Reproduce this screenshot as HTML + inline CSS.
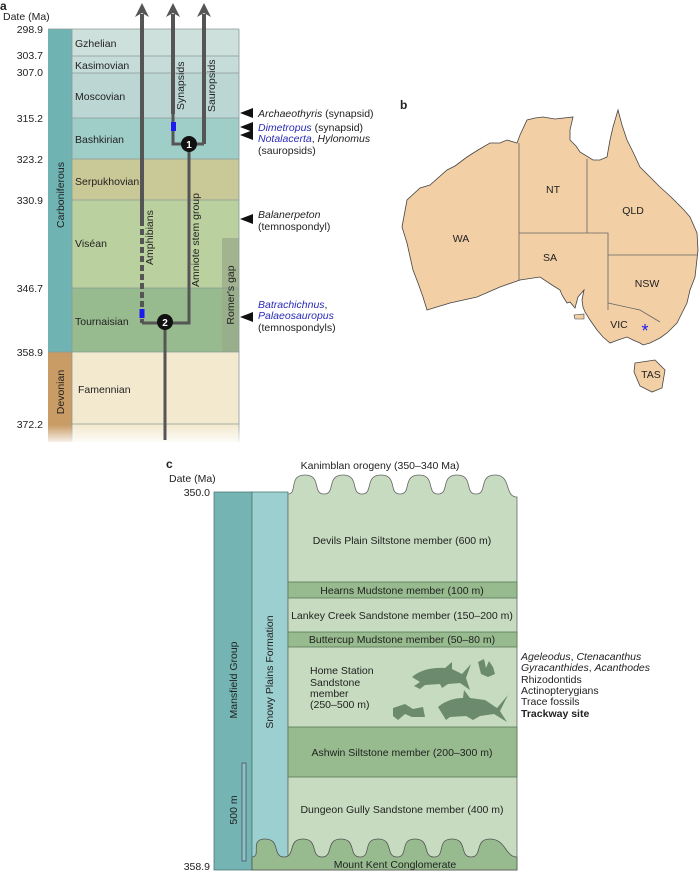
<!DOCTYPE html>
<html><head><meta charset="utf-8"><style>
html,body{margin:0;padding:0;background:#fff}
svg{display:block}
text{font-family:"Liberation Sans",Arial,sans-serif;fill:#222}
</style></head><body>
<svg width="700" height="875" viewBox="0 0 700 875" xmlns="http://www.w3.org/2000/svg">
<defs>
<linearGradient id="fade" x1="0" y1="0" x2="0" y2="1"><stop offset="0" stop-color="#fff" stop-opacity="0"/><stop offset="1" stop-color="#fff" stop-opacity="1"/></linearGradient>
</defs>
<!-- ===== Panel a ===== -->
<text x="0" y="10" font-size="12" font-weight="bold">a</text>
<text x="3" y="20" font-size="10.5">Date (Ma)</text>
<g font-size="10.5" text-anchor="end">
<text x="43" y="33">298.9</text><text x="43" y="59">303.7</text><text x="43" y="76">307.0</text>
<text x="43" y="122">315.2</text><text x="43" y="163">323.2</text><text x="43" y="204">330.9</text>
<text x="43" y="292">346.7</text><text x="43" y="356">358.9</text><text x="43" y="428">372.2</text>
</g>
<rect x="48" y="29" width="24" height="323" fill="#6fb3b3"/>
<rect x="48" y="352" width="24" height="90" fill="#c99b65"/>
<rect x="72" y="29" width="167" height="27" fill="#cde0dc"/>
<rect x="72" y="56" width="167" height="17" fill="#c6dcd8"/>
<rect x="72" y="73" width="167" height="45" fill="#bcd7d3"/>
<rect x="72" y="118" width="167" height="41" fill="#9fcdc8"/>
<rect x="72" y="159" width="167" height="41" fill="#c9c897"/>
<rect x="72" y="200" width="167" height="88" fill="#bad09e"/>
<rect x="72" y="288" width="167" height="64" fill="#97bb8e"/>
<rect x="72" y="352" width="167" height="90" fill="#f3e9cf"/>
<rect x="222" y="238" width="17" height="114" fill="#9aaa8a" opacity="0.75"/>
<g stroke="#8a9a98" stroke-width="0.8">
<line x1="72" y1="56" x2="239" y2="56"/><line x1="72" y1="73" x2="239" y2="73"/><line x1="72" y1="118" x2="239" y2="118"/>
<line x1="72" y1="159" x2="239" y2="159"/><line x1="72" y1="200" x2="239" y2="200"/><line x1="72" y1="288" x2="239" y2="288"/>
<line x1="48" y1="352" x2="239" y2="352"/><line x1="72" y1="424" x2="239" y2="424"/>
<line x1="72" y1="29" x2="72" y2="442"/><line x1="239" y1="29" x2="239" y2="442"/><line x1="48" y1="29" x2="239" y2="29"/>
</g>
<rect x="40" y="425" width="210" height="20" fill="url(#fade)"/>
<g font-size="10.5">
<text x="75" y="47">Gzhelian</text><text x="75" y="69">Kasimovian</text><text x="75" y="100">Moscovian</text>
<text x="75" y="143">Bashkirian</text><text x="75" y="185">Serpukhovian</text><text x="75" y="247">Viséan</text>
<text x="75" y="325">Tournaisian</text><text x="78" y="393">Famennian</text>
</g>
<text transform="translate(64,195) rotate(-90)" font-size="10.5" text-anchor="middle">Carboniferous</text>
<text transform="translate(64,392) rotate(-90)" font-size="10.5" text-anchor="middle">Devonian</text>
<text transform="translate(234,295) rotate(-90)" font-size="10.5" text-anchor="middle">Romer's gap</text>
<!-- tree -->
<g stroke="#555" fill="none" stroke-linejoin="miter">
<line x1="142" y1="14" x2="142" y2="220" stroke-width="4"/>
<line x1="142" y1="220" x2="142" y2="323" stroke-width="4" stroke-dasharray="6,3"/>
<polyline points="142,323 189,323 189,144" stroke-width="3"/>
<line x1="165" y1="323" x2="165" y2="440" stroke-width="3"/>
<line x1="173" y1="14" x2="173" y2="114" stroke-width="4"/>
<polyline points="173,114 173,144 204,144" stroke-width="3"/>
<line x1="204" y1="14" x2="204" y2="144" stroke-width="4"/>
</g>
<g fill="#555">
<polygon points="142,3 135,17 142,13 149,17"/>
<polygon points="173,3 166,17 173,13 180,17"/>
<polygon points="204,3 197,17 204,13 211,17"/>
</g>
<rect x="139.5" y="309" width="5" height="9" fill="#1b1bf0"/>
<rect x="171" y="122" width="5" height="9" fill="#1b1bf0"/>
<circle cx="189" cy="144" r="8" fill="#111"/><text x="189" y="148" font-size="10" font-weight="bold" text-anchor="middle" style="fill:#fff">1</text>
<circle cx="165" cy="322" r="8" fill="#111"/><text x="165" y="326" font-size="10" font-weight="bold" text-anchor="middle" style="fill:#fff">2</text>
<g font-size="10.5">
<text transform="translate(184,110) rotate(-90)">Synapsids</text>
<text transform="translate(215,112) rotate(-90)">Sauropsids</text>
<text transform="translate(153,265) rotate(-90)">Amphibians</text>
<text transform="translate(199,287) rotate(-90)">Amniote stem group</text>
</g>
<!-- annotations -->
<g fill="#111">
<polygon points="240,113 253,108 253,118"/>
<polygon points="240,127 253,122 253,132"/>
<polygon points="240,135 253,130 253,140"/>
<polygon points="240,219 253,214 253,224"/>
<polygon points="240,317 253,312 253,322"/>
</g>
<g font-size="10.5">
<text x="258" y="117"><tspan font-style="italic">Archaeothyris</tspan> (synapsid)</text>
<text x="258" y="131"><tspan font-style="italic" style="fill:#2a2ab8">Dimetropus</tspan> (synapsid)</text>
<text x="258" y="142"><tspan font-style="italic" style="fill:#2a2ab8">Notalacerta</tspan>, <tspan font-style="italic">Hylonomus</tspan></text>
<text x="258" y="154">(sauropsids)</text>
<text x="258" y="218" font-style="italic">Balanerpeton</text>
<text x="258" y="230">(temnospondyl)</text>
<text x="258" y="308"><tspan font-style="italic" style="fill:#2a2ab8">Batrachichnus</tspan>,</text>
<text x="258" y="319" font-style="italic" style="fill:#2a2ab8">Palaeosauropus</text>
<text x="258" y="331">(temnospondyls)</text>
</g>
<!-- ===== Panel b ===== -->
<text x="400" y="109" font-size="12" font-weight="bold">b</text>
<path d="M402,227 L407,200 L420,188 L430,185 L447,170 L455,166 L467,157 L478,150 L490,143 L500,143 L507,140 L517,143 L520,135 L527,120 L535,118 L543,117 L555,119 L573,117 L570,130 L570,140 L576,146 L580,152 L593,160 L600,160 L607,157 L610,140 L613,127 L618,110 L622,125 L627,140 L633,152 L640,167 L650,177 L660,187 L670,196 L677,203 L684,210 L690,217 L697,233 L698,250 L695,277 L690,290 L687,303 L682,313 L677,323 L667,333 L660,338 L650,343 L643,345 L640,343 L633,340 L627,337 L618,340 L610,343 L603,337 L597,330 L590,320 L585,312 L583,307 L582,300 L584,290 L578,297 L575,308 L570,302 L567,303 L562,295 L560,290 L552,285 L540,277 L520,280 L500,287 L477,297 L450,303 L427,310 L423,297 L418,283 L413,270 L407,243 Z" fill="#f2cfa5" stroke="#444" stroke-width="0.8"/>
<path d="M574,315 L584,314 L584,319 L575,319 Z" fill="#f2cfa5" stroke="#444" stroke-width="0.6"/>
<path d="M635,363 L655,360 L665,370 L662,388 L652,392 L640,386 L634,372 Z" fill="#f2cfa5" stroke="#444" stroke-width="0.8"/>
<g stroke="#666" stroke-width="0.8" fill="none">
<polyline points="519,143 519,280"/>
<polyline points="519,233 608,233 608,310"/>
<line x1="587" y1="159" x2="587" y2="233"/>
<line x1="608" y1="255" x2="698" y2="255"/>
<polyline points="608,303 640,310 660,322"/>
</g>
<g font-size="10.5" text-anchor="middle">
<text x="553" y="193">NT</text><text x="633" y="214">QLD</text><text x="461" y="242">WA</text>
<text x="550" y="261">SA</text><text x="647" y="287">NSW</text><text x="619" y="328">VIC</text><text x="651" y="378">TAS</text>
</g>
<text x="645" y="337" font-size="18" text-anchor="middle" style="fill:#1b1bf0">*</text>
<!-- ===== Panel c ===== -->
<text x="166" y="468" font-size="12" font-weight="bold">c</text>
<text x="169" y="482" font-size="10.5">Date (Ma)</text>
<text x="210" y="496" font-size="10.5" text-anchor="end">350.0</text>
<text x="210" y="870" font-size="10.5" text-anchor="end">358.9</text>
<text x="380" y="469" font-size="10.5" text-anchor="middle">Kanimblan orogeny (350–340 Ma)</text>
<rect x="214" y="492" width="38" height="378" fill="#74b4b3" stroke="#4c7a78" stroke-width="0.8"/>
<rect x="252" y="492" width="36" height="378" fill="#9ccfcf" stroke="#4c7a78" stroke-width="0.8"/>
<path d="M288,494 C298,494 288,475 305,475 C322,475 312,494 324,494 C336,494 326,475 343,475 C360,475 350,494 362,494 C374,494 364,475 381,475 C398,475 388,494 400,494 C412,494 402,475 419,475 C436,475 426,494 438,494 C450,494 440,475 457,475 C474,475 464,494 476,494 C488,494 478,475 495,475 C512,475 504,497 517,497 L517,870 L288,870 Z" fill="#c6dbbf" stroke="#666" stroke-width="0.8"/>
<g stroke="#5a7a5a" stroke-width="0.8">
<rect x="288" y="582" width="229" height="16" fill="#97bb8e"/>
<rect x="288" y="632" width="229" height="15" fill="#97bb8e"/>
<rect x="288" y="727" width="229" height="50" fill="#97bb8e"/>
</g>
<path d="M252,857 C262,857 249,839 265,839 C281,839 272,857 284,857 C296,857 287,839 303,839 C319,839 310,857 322,857 C334,857 325,839 341,839 C357,839 348,857 360,857 C372,857 362,839 378,839 C394,839 385,857 397,857 C409,857 399,839 415,839 C431,839 422,857 434,857 C446,857 436,839 452,839 C468,839 459,857 471,857 C483,857 474,839 490,839 C506,839 505,857 517,857 L517,870 L252,870 Z" fill="#97bb8e" stroke="#555" stroke-width="0.8"/>
<rect x="242" y="763" width="4" height="98" fill="#8fc3c2" stroke="#446" stroke-width="0.7"/>
<g font-size="10.5" text-anchor="middle">
<text x="402" y="544">Devils Plain Siltstone member (600 m)</text>
<text x="402" y="594">Hearns Mudstone member (100 m)</text>
<text x="402" y="619">Lankey Creek Sandstone member (150–200 m)</text>
<text x="402" y="643">Buttercup Mudstone member (50–80 m)</text>
<text x="402" y="756">Ashwin Siltstone member (200–300 m)</text>
<text x="402" y="813">Dungeon Gully Sandstone member (400 m)</text>
<text x="395" y="868">Mount Kent Conglomerate</text>
</g>
<g font-size="10.5">
<text x="310" y="674">Home Station</text><text x="310" y="686">Sandstone</text><text x="310" y="697">member</text><text x="310" y="708">(250–500 m)</text>
</g>
<text transform="translate(237,680) rotate(-90)" font-size="10.5" text-anchor="middle">Mansfield Group</text>
<text transform="translate(273,672) rotate(-90)" font-size="10.5" text-anchor="middle">Snowy Plains Formation</text>
<text transform="translate(237,810) rotate(-90)" font-size="10.5" text-anchor="middle">500 m</text>
<!-- fossils -->
<g fill="#6b8a6e">
<path d="M412,677 C420,670 432,667 445,668 L452,662 L452,669 L462,674 L471,664 L466,678 L470,690 L460,683 L448,684 L442,688 L440,684 L425,685 L420,689 L414,686 L420,682 Z"/>
<path d="M438,707 C446,700 456,698 463,698 L464,690 L470,698 L485,700 L497,708 L508,695 L500,711 L507,722 L494,714 L480,716 L473,720 L466,716 L450,717 L446,720 Z"/>
<path d="M393,708 L405,704 L413,709 L423,707 L425,717 L412,717 L405,714 L398,720 L393,716 Z"/>
<path d="M478,662 L484,659 L486,668 L489,661 L493,667 L495,674 L488,677 L481,674 Z"/>
</g>
<g font-size="10.5">
<text x="521" y="660"><tspan font-style="italic">Ageleodus</tspan>, <tspan font-style="italic">Ctenacanthus</tspan></text>
<text x="521" y="671"><tspan font-style="italic">Gyracanthides</tspan>, <tspan font-style="italic">Acanthodes</tspan></text>
<text x="521" y="683">Rhizodontids</text>
<text x="521" y="694">Actinopterygians</text>
<text x="521" y="705">Trace fossils</text>
<text x="521" y="717" font-weight="bold">Trackway site</text>
</g>
</svg>
</body></html>
